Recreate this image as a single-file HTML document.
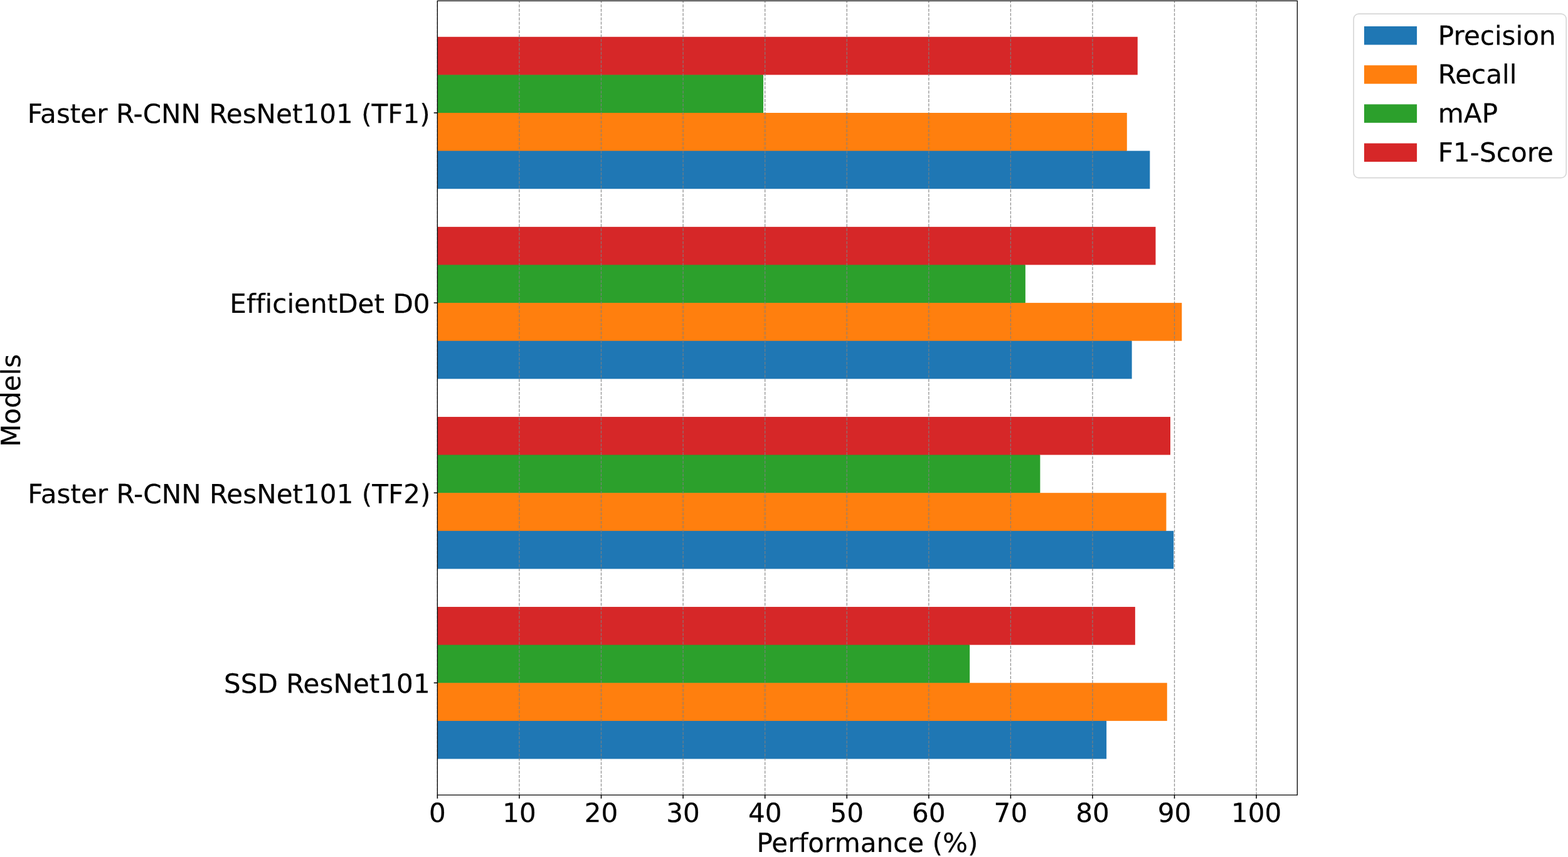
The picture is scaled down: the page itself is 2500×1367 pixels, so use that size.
<!DOCTYPE html>
<html lang="en"><head><meta charset="utf-8"><title>Performance (%)</title>
<style>
html,body{margin:0;padding:0;background:#fff;}
body{width:2500px;height:1367px;overflow:hidden;}
svg{display:block;}
text{font-family:"DejaVu Sans","Liberation Sans",sans-serif;font-size:42.10px;fill:#000;stroke:#000;stroke-width:0.2px;stroke-linejoin:round;text-rendering:geometricPrecision;font-variant-ligatures:none;font-feature-settings:"liga" 0,"clig" 0;font-kerning:normal;}
</style></head><body>
<svg width="2500" height="1367" viewBox="0 0 2500 1367">
<rect x="0" y="0" width="2500" height="1367" fill="#ffffff"/>
<g shape-rendering="auto">
<rect x="697.40" y="1149.89" width="1066.76" height="60.62" fill="#1f77b4"/>
<rect x="697.40" y="1148.89" width="1066.06" height="1.50" fill="#1f77b4"/>
<rect x="697.40" y="1089.28" width="1163.38" height="60.62" fill="#ff7f0e"/>
<rect x="697.40" y="1088.28" width="848.00" height="1.50" fill="#ff7f0e"/>
<rect x="697.40" y="1028.66" width="848.71" height="60.62" fill="#2ca02c"/>
<rect x="697.40" y="1027.66" width="848.00" height="1.50" fill="#2ca02c"/>
<rect x="697.40" y="968.04" width="1112.46" height="60.62" fill="#d62728"/>
<rect x="697.40" y="846.80" width="1173.82" height="60.62" fill="#1f77b4"/>
<rect x="697.40" y="845.80" width="1161.37" height="1.50" fill="#1f77b4"/>
<rect x="697.40" y="786.19" width="1162.07" height="60.62" fill="#ff7f0e"/>
<rect x="697.40" y="785.19" width="960.30" height="1.50" fill="#ff7f0e"/>
<rect x="697.40" y="725.57" width="961.00" height="60.62" fill="#2ca02c"/>
<rect x="697.40" y="724.57" width="960.30" height="1.50" fill="#2ca02c"/>
<rect x="697.40" y="664.95" width="1168.60" height="60.62" fill="#d62728"/>
<rect x="697.40" y="543.71" width="1107.23" height="60.62" fill="#1f77b4"/>
<rect x="697.40" y="542.71" width="1106.53" height="1.50" fill="#1f77b4"/>
<rect x="697.40" y="483.10" width="1186.88" height="60.62" fill="#ff7f0e"/>
<rect x="697.40" y="482.10" width="936.79" height="1.50" fill="#ff7f0e"/>
<rect x="697.40" y="422.48" width="937.49" height="60.62" fill="#2ca02c"/>
<rect x="697.40" y="421.48" width="936.79" height="1.50" fill="#2ca02c"/>
<rect x="697.40" y="361.86" width="1145.10" height="60.62" fill="#d62728"/>
<rect x="697.40" y="240.62" width="1135.96" height="60.62" fill="#1f77b4"/>
<rect x="697.40" y="239.62" width="1098.70" height="1.50" fill="#1f77b4"/>
<rect x="697.40" y="180.01" width="1099.40" height="60.62" fill="#ff7f0e"/>
<rect x="697.40" y="179.01" width="518.97" height="1.50" fill="#ff7f0e"/>
<rect x="697.40" y="119.39" width="519.67" height="60.62" fill="#2ca02c"/>
<rect x="697.40" y="118.39" width="518.97" height="1.50" fill="#2ca02c"/>
<rect x="697.40" y="58.77" width="1116.37" height="60.62" fill="#d62728"/>
</g>
<g stroke="#808080" stroke-opacity="0.84" stroke-width="1.3" stroke-dasharray="4.793 2.073" fill="none">
<line x1="697.40" y1="1268.33" x2="697.40" y2="1.40"/>
<line x1="827.97" y1="1268.33" x2="827.97" y2="1.40"/>
<line x1="958.54" y1="1268.33" x2="958.54" y2="1.40"/>
<line x1="1089.11" y1="1268.33" x2="1089.11" y2="1.40"/>
<line x1="1219.68" y1="1268.33" x2="1219.68" y2="1.40"/>
<line x1="1350.25" y1="1268.33" x2="1350.25" y2="1.40"/>
<line x1="1480.82" y1="1268.33" x2="1480.82" y2="1.40"/>
<line x1="1611.39" y1="1268.33" x2="1611.39" y2="1.40"/>
<line x1="1741.96" y1="1268.33" x2="1741.96" y2="1.40"/>
<line x1="1872.53" y1="1268.33" x2="1872.53" y2="1.40"/>
<line x1="2003.10" y1="1268.33" x2="2003.10" y2="1.40"/>
</g>
<g stroke="#000" stroke-width="1.55" fill="none">
<line x1="697.40" y1="1268.10" x2="697.40" y2="1273.77"/>
<line x1="827.97" y1="1268.10" x2="827.97" y2="1273.77"/>
<line x1="958.54" y1="1268.10" x2="958.54" y2="1273.77"/>
<line x1="1089.11" y1="1268.10" x2="1089.11" y2="1273.77"/>
<line x1="1219.68" y1="1268.10" x2="1219.68" y2="1273.77"/>
<line x1="1350.25" y1="1268.10" x2="1350.25" y2="1273.77"/>
<line x1="1480.82" y1="1268.10" x2="1480.82" y2="1273.77"/>
<line x1="1611.39" y1="1268.10" x2="1611.39" y2="1273.77"/>
<line x1="1741.96" y1="1268.10" x2="1741.96" y2="1273.77"/>
<line x1="1872.53" y1="1268.10" x2="1872.53" y2="1273.77"/>
<line x1="2003.10" y1="1268.10" x2="2003.10" y2="1273.77"/>
<line x1="697.40" y1="1089.28" x2="691.73" y2="1089.28"/>
<line x1="697.40" y1="786.19" x2="691.73" y2="786.19"/>
<line x1="697.40" y1="483.10" x2="691.73" y2="483.10"/>
<line x1="697.40" y1="180.01" x2="691.73" y2="180.01"/>
</g>
<path d="M697.40 1.40H2068.39V1268.10H697.40Z" fill="none" stroke="#000" stroke-width="1.30" stroke-linejoin="miter"/>
<text transform="translate(697.40 1311.35) skewY(0.03)" text-anchor="middle">0</text>
<text transform="translate(827.97 1311.35) skewY(0.03)" text-anchor="middle">10</text>
<text transform="translate(958.54 1311.35) skewY(0.03)" text-anchor="middle">20</text>
<text transform="translate(1089.11 1311.35) skewY(0.03)" text-anchor="middle">30</text>
<text transform="translate(1219.68 1311.35) skewY(0.03)" text-anchor="middle">40</text>
<text transform="translate(1350.25 1311.35) skewY(0.03)" text-anchor="middle">50</text>
<text transform="translate(1480.82 1311.35) skewY(0.03)" text-anchor="middle">60</text>
<text transform="translate(1611.39 1311.35) skewY(0.03)" text-anchor="middle">70</text>
<text transform="translate(1741.96 1311.35) skewY(0.03)" text-anchor="middle">80</text>
<text transform="translate(1872.53 1311.35) skewY(0.03)" text-anchor="middle">90</text>
<text transform="translate(2003.10 1311.35) skewY(0.03)" text-anchor="middle">100</text>
<text transform="translate(1382.89 1359.00) skewY(0.03)" text-anchor="middle">Performance (%)</text>
<text transform="translate(364.76 196.20) skewY(0.03)" text-anchor="middle">Faster R-CNN ResNet101 (TF1)</text>
<text transform="translate(525.96 499.10) skewY(0.03)" text-anchor="middle">EfficientDet D0</text>
<text transform="translate(365.36 802.70) skewY(0.03)" text-anchor="middle">Faster R-CNN ResNet101 (TF2)</text>
<text transform="translate(521.35 1105.20) skewY(0.03)" text-anchor="middle">SSD ResNet101</text>
<text transform="translate(32.12 638.93) rotate(-90) skewY(0.03)" text-anchor="middle">Models</text>
<rect x="2158.20" y="22.10" width="339.00" height="261.50" rx="8.2" ry="8.2" fill="#ffffff" fill-opacity="0.8" stroke="#cccccc" stroke-opacity="0.8" stroke-width="1.6"/>
<rect x="2175.00" y="42.00" width="84.10" height="29.45" fill="#1f77b4"/>
<text transform="translate(2386.77 71.50) skewY(0.03)" text-anchor="middle">Precision</text>
<rect x="2175.00" y="104.20" width="84.10" height="29.45" fill="#ff7f0e"/>
<text transform="translate(2355.65 133.30) skewY(0.03)" text-anchor="middle">Recall</text>
<rect x="2175.00" y="166.40" width="84.10" height="29.45" fill="#2ca02c"/>
<text transform="translate(2340.45 195.40) skewY(0.03)" text-anchor="middle">mAP</text>
<rect x="2175.00" y="228.60" width="84.10" height="29.45" fill="#d62728"/>
<text transform="translate(2384.90 257.80) skewY(0.03)" text-anchor="middle">F1-Score</text>
</svg>
</body></html>
